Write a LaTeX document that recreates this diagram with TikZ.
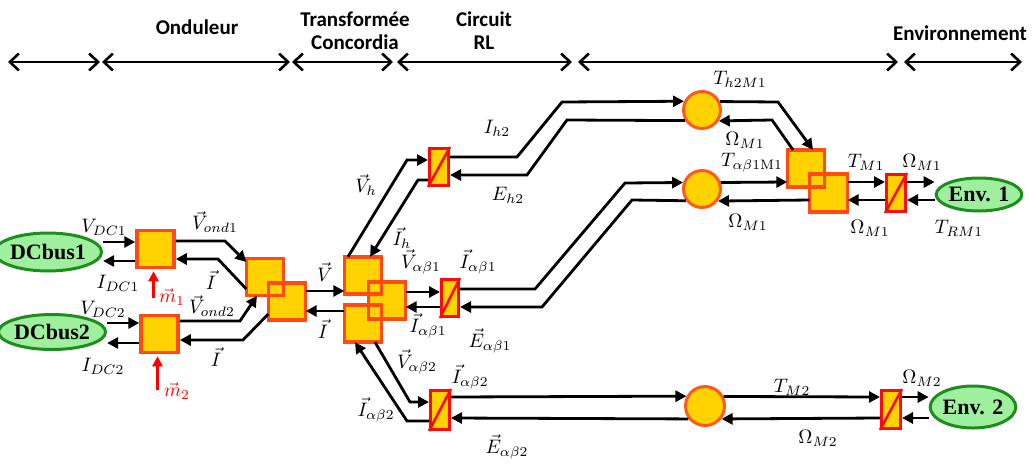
\documentclass[tikz,border=0pt]{standalone}
\usepackage{graphicx}
\usepackage{fontspec}
\newfontfamily\hdrfont{Carlito}
\newfontfamily\busfont{Liberation Serif}
\usetikzlibrary{arrows.meta,calc,shapes.geometric}
\definecolor{gold}{HTML}{FFD200}
\definecolor{sqorange}{HTML}{FF4A14}
\definecolor{circorange}{HTML}{FF5A1E}
\definecolor{lightgreen}{HTML}{9EF09E}
\definecolor{darkgreen}{HTML}{1E8C1E}
\definecolor{redblk}{HTML}{FF0A0A}
\newcommand{\lbl}[1]{\scalebox{1.95}{#1}}
\tikzset{
 lab/.style={inner sep=0pt, font=\fontsize{10}{12}\selectfont},
 conn/.style={line width=2.8pt, -{Triangle[length=11pt,width=11pt]}},
 redconn/.style={red, line width=2.4pt, -{Triangle[length=10pt,width=10pt]}},
 hdrarrow/.style={line width=2.6pt, {Straight Barb[length=9pt,width=17pt]}-{Straight Barb[length=9pt,width=17pt]}},
 sqfill/.style={rectangle, inner sep=0pt, minimum size=37pt, fill=gold},
 sqline/.style={draw=sqorange, line width=3.5pt},
 conv/.style={sqfill, draw=sqorange, line width=3.5pt},
 rblock/.style={rectangle, inner sep=0pt, minimum width=19pt, minimum height=37pt, fill=gold, draw=redblk, line width=3pt},
 diag/.style={draw=redblk, line width=2.6pt},
 circ/.style={circle, inner sep=0pt, minimum size=37pt, fill=gold, draw=circorange, line width=3pt},
 envell/.style={ellipse, inner sep=0pt, fill=lightgreen, draw=darkgreen, line width=3pt, font=\busfont\bfseries\fontsize{22}{24}\selectfont},
 hdrtext/.style={font=\hdrfont\bfseries\fontsize{21}{23}\selectfont, inner sep=0pt, align=center},
}
\begin{document}
\begin{tikzpicture}[x=1pt,y=-1pt]
\useasboundingbox (0,0) rectangle (1033,464);

% ---------- header ----------
\coordinate (h0) at (8,62);
\coordinate (h1) at (100,62);
\coordinate (h2) at (102,62);
\coordinate (h3) at (290,62);
\coordinate (h4) at (292,62);
\coordinate (h5) at (393,62);
\coordinate (h6) at (397,62);
\coordinate (h7) at (572,62);
\coordinate (h8) at (578,62);
\coordinate (h9) at (898,62);
\coordinate (h10) at (904,62);
\coordinate (h11) at (1022,62);
\draw[hdrarrow] (h0) -- (h1);
\draw[hdrarrow] (h2) -- (h3);
\draw[hdrarrow] (h4) -- (h5);
\draw[hdrarrow] (h6) -- (h7);
\draw[hdrarrow] (h8) -- (h9);
\draw[hdrarrow] (h10) -- (h11);
\node[hdrtext] (tOnd) at (197,27) {Onduleur};
\node[hdrtext] (tTra) at (355,31) {Transformée\\Concordia};
\node[hdrtext] (tCir) at (484,31) {Circuit\\RL};
\node[hdrtext] (tEnv) at (960,33) {Environnement};

% ---------- sources ----------
\node[envell, minimum width=77pt, minimum height=38pt] (dc1) at (48,252) {DCbus1};
\node[envell, minimum width=76pt, minimum height=35pt] (dc2) at (52,332) {DCbus2};
\node[envell, minimum width=75pt, minimum height=33pt] (env1) at (979,194.5) {Env. 1};
\node[envell, minimum width=77pt, minimum height=42pt] (env2) at (973,407) {Env. 2};

% ---------- converters ----------
\node[conv] (conv1) at (155.5,249) {};
\node[conv] (conv2) at (159.5,334) {};

% coupling block
\node[sqfill] (cpA) at (265,277) {};
\node[sqfill] (cpB) at (287,301.5) {};
\draw[sqline] (cpA.south west) rectangle (cpA.north east);
\draw[sqline] (cpB.south west) rectangle (cpB.north east);

% Concordia block
\node[sqfill] (ctA) at (363,275.5) {};
\node[sqfill] (ctB) at (387,300.5) {};
\node[sqfill] (ctC) at (363,323.5) {};
\draw[sqline] (ctA.south west) rectangle (ctA.north east);
\draw[sqline] (ctB.south west) rectangle (ctB.north east);
\draw[sqline] (ctC.south west) rectangle (ctC.north east);

% RL blocks
\node[rblock] (rh) at (439,167) {};
\node[rblock, minimum width=17pt] (r1) at (450,298) {};
\node[rblock, minimum height=39pt] (r2) at (440,410) {};
\draw[diag] (rh.south west) -- (rh.north east);
\draw[diag] (r1.south west) -- (r1.north east);
\draw[diag] (r2.south west) -- (r2.north east);

% machines
\node[circ] (ch) at (702,110) {};
\node[circ] (c1) at (702,189) {};
\node[circ, minimum size=39pt] (c2) at (705,406) {};

% machine coupling
\node[sqfill] (mA) at (806,168.5) {};
\node[sqfill, minimum size=38pt] (mB) at (828.5,193) {};
\draw[sqline] (mA.south west) rectangle (mA.north east);
\draw[sqline] (mB.south west) rectangle (mB.north east);

\node[rblock] (rm1) at (896,193) {};
\node[rblock, minimum height=38pt] (rm2) at (891,409.5) {};
\draw[diag] (rm1.south west) -- (rm1.north east);
\draw[diag] (rm2.south west) -- (rm2.north east);

% ---------- connectors ----------
\draw[conn] (dc1.east |- 0,242) -- (conv1.west |- 0,242);
\draw[conn] (conv1.west |- 0,261) -- (dc1.east |- 0,261);
\draw[conn] (dc2.east |- 0,323) -- (conv2.west |- 0,323);
\draw[conn] (conv2.west |- 0,343) -- (dc2.east |- 0,343);
\draw[redconn] ($(conv1.south)+(-2,29)$) -- ($(conv1.south)+(-2,2)$);
\draw[redconn] ($(conv2.south)+(-2,36)$) -- ($(conv2.south)+(-2,2)$);

\draw[conn] (conv1.east |- 0,241) -- (225,241) -- (cpA.west |- 0,262);
\draw[conn] (cpA.west |- 0,289) -- (218,259) -- (conv1.east |- 0,259);
\draw[conn] (conv2.east |- 0,321) -- (240,321) -- (257,0 |- cpA.south);
\draw[conn] (cpB.west |- 0,314) -- (243,340) -- (conv2.east |- 0,340);

\draw[conn] (cpB.east |- 0,291) -- (ctA.west |- 0,291);
\draw[conn] (ctC.west |- 0,311) -- (cpB.east |- 0,311);

\draw[conn] (348,0 |- ctA.north) -- (407,160) -- (rh.west |- 0,160);
\draw[conn] (rh.west |- 0,180) -- (418,180) -- (370,0 |- ctA.north);
\draw[conn] (rh.east |- 0,157) -- (517,157) -- (562,102) -- (ch.154.4);
\draw[conn] (ch.212.7) -- (567,120) -- (527,175) -- (rh.east |- 0,175);

\draw[conn] (ctB.east |- 0,292) -- (r1.west |- 0,292);
\draw[conn] (r1.west |- 0,307) -- (ctB.east |- 0,307);
\draw[conn] (r1.east |- 0,289) -- (535,289) -- (625,183) -- (c1.161);
\draw[conn] (c1.216.5) -- (632,200) -- (542,307) -- (r1.east |- 0,307);

\draw[conn] (375,0 |- ctC.south) -- (410,402) -- (r2.west |- 0,402);
\draw[conn] (r2.west |- 0,421) -- (407,421) -- (355,0 |- ctC.south);
\draw[conn] (r2.east |- 0,397) -- (c2.152.5);
\draw[conn] (c2.218) -- (r2.east |- 0,418);
\draw[conn] (c2.27.5) -- (rm2.west |- 0,397);
\draw[conn] (rm2.west |- 0,418) -- (c2.322);
\draw[conn] (rm2.east |- 0,397) -- (env2.west |- 0,397);
\draw[conn] (env2.west |- 0,418) -- (rm2.east |- 0,418);

\draw[conn] (ch.25.6) -- (778,102) -- (813,0 |- mA.north);
\draw[conn] (793,0 |- mA.north) -- (772,120) -- (ch.327.3);
\draw[conn] (c1.19) -- (mA.west |- 0,182);
\draw[conn] (mB.west |- 0,200) -- (c1.323.5);
\draw[conn] (mB.east |- 0,182) -- (rm1.west |- 0,182);
\draw[conn] (rm1.west |- 0,200) -- (mB.east |- 0,200);
\draw[conn] (rm1.east |- 0,182) -- (env1.west |- 0,182);
\draw[conn] (env1.west |- 0,200) -- (rm1.east |- 0,200);

% ---------- labels ----------
\node[lab] (lVdc1) at (104,227) {\lbl{$V_{DC1}$}};
\node[lab] (lIdc1) at (118,283) {\lbl{$I_{DC1}$}};
\node[lab] (lVdc2) at (103,309) {\lbl{$V_{DC2}$}};
\node[lab] (lIdc2) at (103,366) {\lbl{$I_{DC2}$}};
\node[lab, text=red] (lm1) at (172,297) {\lbl{$\vec{m}_1$}};
\node[lab, text=red] (lm2) at (177,391) {\lbl{$\vec{m}_2$}};
\node[lab] (lVo1) at (215,222) {\lbl{$\vec{V}_{ond1}$}};
\node[lab] (lI1) at (211,280) {\lbl{$\vec{I}$}};
\node[lab] (lVo2) at (212,306) {\lbl{$\vec{V}_{ond2}$}};
\node[lab] (lI2) at (216,357) {\lbl{$\vec{I}$}};
\node[lab] (lV) at (325,272) {\lbl{$\vec{V}$}};
\node[lab] (lI) at (323,329) {\lbl{$\vec{I}$}};
\node[lab] (lVh) at (366,185) {\lbl{$\vec{V}_h$}};
\node[lab] (lIh) at (402,238) {\lbl{$\vec{I}_h$}};
\node[lab] (lVab1) at (421,262) {\lbl{$\vec{V}_{\alpha\beta1}$}};
\node[lab] (lIab1a) at (478,262) {\lbl{$\vec{I}_{\alpha\beta1}$}};
\node[lab] (lIab1b) at (428,326) {\lbl{$\vec{I}_{\alpha\beta1}$}};
\node[lab] (lEab1) at (490,341) {\lbl{$\vec{E}_{\alpha\beta1}$}};
\node[lab] (lVab2) at (417,362) {\lbl{$\vec{V}_{\alpha\beta2}$}};
\node[lab] (lIab2a) at (470,377) {\lbl{$\vec{I}_{\alpha\beta2}$}};
\node[lab] (lIab2b) at (376,410) {\lbl{$\vec{I}_{\alpha\beta2}$}};
\node[lab] (lEab2) at (507,447) {\lbl{$\vec{E}_{\alpha\beta2}$}};
\node[lab] (lIh2) at (497,128) {\lbl{$I_{h2}$}};
\node[lab] (lEh2) at (508,195) {\lbl{$E_{h2}$}};
\node[lab] (lTh2) at (740,79) {\lbl{$T_{h2M1}$}};
\node[lab] (lOm1a) at (745,140) {\lbl{$\Omega_{M1}$}};
\node[lab] (lTab) at (752,163) {\lbl{$T_{\alpha\beta1\mathrm{M}1}$}};
\node[lab] (lOm1b) at (748,222) {\lbl{$\Omega_{M1}$}};
\node[lab] (lTM1) at (866,162) {\lbl{$T_{M1}$}};
\node[lab] (lOm1c) at (922,162) {\lbl{$\Omega_{M1}$}};
\node[lab] (lOm1d) at (870,228) {\lbl{$\Omega_{M1}$}};
\node[lab] (lTRM1) at (959,228) {\lbl{$T_{RM1}$}};
\node[lab] (lTM2) at (792,387) {\lbl{$T_{M2}$}};
\node[lab] (lOm2a) at (818,438) {\lbl{$\Omega_{M2}$}};
\node[lab] (lOm2b) at (922,378) {\lbl{$\Omega_{M2}$}};
\end{tikzpicture}
\end{document}
